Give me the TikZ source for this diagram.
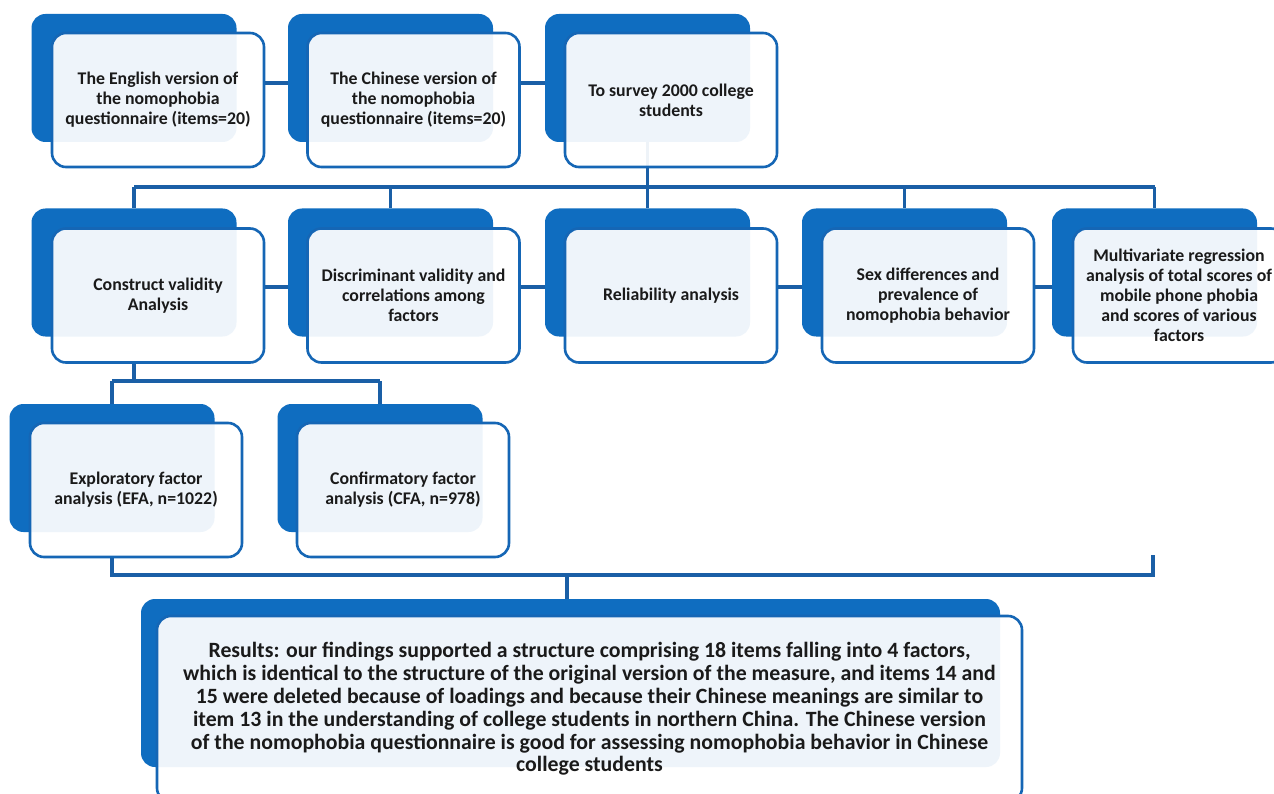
\documentclass[tikz,border=0pt]{standalone}
\usepackage{fontspec}
\setmainfont{Carlito}
\usetikzlibrary{calc}
\definecolor{backblue}{HTML}{0F6DC0}
\definecolor{frontline}{HTML}{1566B5}
\definecolor{linkblue}{HTML}{1A5FA6}
\definecolor{txt}{HTML}{1A1A1A}
\tikzset{
  backbox/.style={rectangle, rounded corners=14pt, fill=backblue, draw=none,
    minimum width=205pt, minimum height=128pt, inner sep=0pt},
  frontbox/.style={rectangle, rounded corners=14pt, draw=frontline, line width=2.6pt,
    fill=white, fill opacity=0.93, text opacity=1, text=txt,
    minimum width=212pt, minimum height=134pt, inner sep=2pt, align=center,
    font=\fontsize{17.8}{20}\selectfont\bfseries},
  resback/.style={backbox, minimum width=859pt, minimum height=168pt},
  resfront/.style={frontbox, minimum width=865pt, minimum height=186pt,
    font=\fontsize{21.8}{22.8}\selectfont\bfseries},
  link/.style={draw=linkblue, line width=3.2pt}
}
\begin{document}
\begin{tikzpicture}[x=1pt,y=-1pt]
\useasboundingbox (0,0) rectangle (1274,794);
\clip (0,0) rectangle (1274,794);
\fill[white] (0,0) rectangle (1274,794);
% back boxes
\node[backbox] (b1) at (134,78) {};
\node[backbox] (b2) at (390.5,78) {};
\node[backbox] (b3) at (647.5,78) {};
\node[backbox] (bA) at (134,272.5) {};
\node[backbox] (bB) at (390.5,272.5) {};
\node[backbox] (bC) at (647.5,272.5) {};
\node[backbox] (bD) at (904.5,272.5) {};
\node[backbox] (bE) at (1154.5,272.5) {};
\node[backbox] (bF) at (112,468) {};
\node[backbox] (bG) at (380,468) {};
\node[resback] (bR) at (570.5,683) {};
% junction coordinates
\coordinate (busY) at (0,187);
\coordinate (subY) at (0,381);
\coordinate (botY) at (0,575);
\coordinate (stub) at (1153,555);
% front box placeholders (for anchors)
\path node[frontbox, draw=none, fill=none, text opacity=0] (f1) at (158,100) {}
      node[frontbox, draw=none, fill=none, text opacity=0] (f2) at (413.5,100) {}
      node[frontbox, draw=none, fill=none, text opacity=0] (f3) at (671,100) {}
      node[frontbox, draw=none, fill=none, text opacity=0] (fA) at (158,295.5) {}
      node[frontbox, draw=none, fill=none, text opacity=0] (fB) at (413.5,295.5) {}
      node[frontbox, draw=none, fill=none, text opacity=0] (fC) at (671,295.5) {}
      node[frontbox, draw=none, fill=none, text opacity=0] (fD) at (928,295.5) {}
      node[frontbox, draw=none, fill=none, text opacity=0] (fE) at (1179,295.5) {}
      node[frontbox, draw=none, fill=none, text opacity=0] (fF) at (136,490) {}
      node[frontbox, draw=none, fill=none, text opacity=0] (fG) at (403,490) {};
% connectors
\draw[link] ([yshift=17pt]f1.east) coordinate (t1) -- (t1 -| b2.west);
\draw[link] ([yshift=17pt]f2.east) coordinate (t2) -- (t2 -| b3.west);
\draw[link] (b3.south) -- (b3.south |- busY);
\draw[link] (bA.north |- busY) -- (bE.north |- busY);
\foreach \n in {A,B,C,D,E} { \draw[link] (b\n.north |- busY) -- (b\n.north); }
\draw[link] ([yshift=8.5pt]fA.east) coordinate (m1) -- (m1 -| bB.west);
\draw[link] ([yshift=8.5pt]fB.east) coordinate (m2) -- (m2 -| bC.west);
\draw[link] ([yshift=8.5pt]fC.east) coordinate (m3) -- (m3 -| bD.west);
\draw[link] ([yshift=8.5pt]fD.east) coordinate (m4) -- (m4 -| bE.west);
\draw[link] (bA.south |- fA.south) -- (bA.south |- subY);
\draw[link] (bF.north |- subY) -- (bG.north |- subY);
\draw[link] (bF.north |- subY) -- (bF.north);
\draw[link] (bG.north |- subY) -- (bG.north);
\draw[link] (bF.south |- fF.south) -- (bF.south |- botY) -- (stub |- botY) -- (stub);
\draw[link] ([xshift=-3.5pt]bR.north |- botY) -- ([xshift=-3.5pt]bR.north);
% front boxes
\node[frontbox] at (f1) {The English version of\\the nomophobia\\questionnaire (items=20)};
\node[frontbox] at (f2) {The Chinese version of\\the nomophobia\\questionnaire (items=20)};
\node[frontbox] at (f3) {To survey 2000 college\\students};
\node[frontbox] at (fA) {Construct validity\\Analysis};
\node[frontbox] at (fB) {Discriminant validity and\\correlations among\\factors};
\node[frontbox] at (fC) {Reliability analysis};
\node[frontbox] at (fD) {Sex differences and\\prevalence of\\nomophobia behavior};
\node[frontbox] at (fE) {Multivariate regression\\analysis of total scores of\\mobile phone phobia\\and scores of various\\factors};
\node[frontbox] at (fF) {Exploratory factor\\analysis (EFA, n=1022)};
\node[frontbox] at (fG) {Confirmatory factor\\analysis (CFA, n=978)};
\node[resfront] (fR) at (589.5,709) {Results: our findings supported a structure comprising 18 items falling into 4 factors,\\which is identical to the structure of the original version of the measure, and items 14 and\\15 were deleted because of loadings and because their Chinese meanings are similar to\\item 13 in the understanding of college students in northern China. The Chinese version\\of the nomophobia questionnaire is good for assessing nomophobia behavior in Chinese\\college students};
\end{tikzpicture}
\end{document}
